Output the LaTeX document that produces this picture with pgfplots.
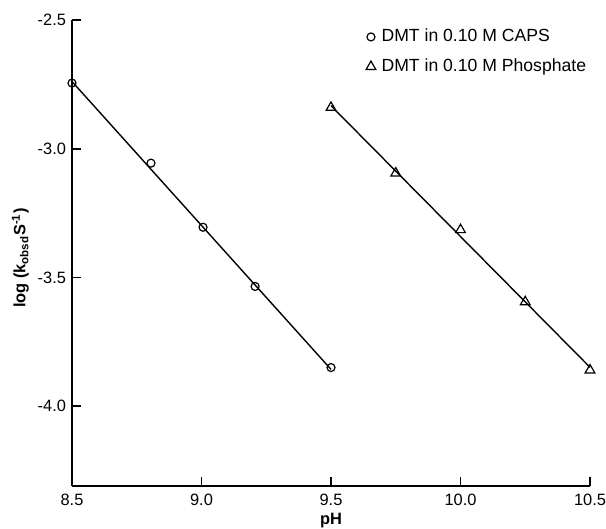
\documentclass[border=0pt]{standalone}
\usepackage{pgfplots}
\pgfplotsset{compat=1.18}
\usepackage{fontspec}
\setmainfont{Liberation Sans}
\begin{document}
\begin{tikzpicture}
\useasboundingbox (-36pt,-21.5pt) rectangle (267pt,243pt);
\begin{axis}[
  at={(0,0)}, anchor=south west,
  scale only axis, width=259pt, height=233pt,
  xmin=8.5, xmax=10.5, ymin=-4.31, ymax=-2.5,
  axis lines=left, axis line style={-, line width=0.9pt},
  tick align=inside, major tick length=4.5pt,
  tick style={line width=0.8pt, black},
  xtick={8.5,9.0,9.5,10.0,10.5},
  ytick={-2.5,-3.0,-3.5,-4.0},
  /pgf/number format/assume math mode=true,
  /pgf/number format/fixed, /pgf/number format/fixed zerofill, /pgf/number format/precision=1,
  ticklabel style={font=\fontsize{8.2}{10}\selectfont},
  yticklabel style={xshift=0.5pt},
  xticklabel style={yshift=-0.5pt},
  xlabel={\textbf{pH}}, ylabel={\textbf{log (k\textsubscript{obsd}S\textsuperscript{-1})}},
  label style={font=\fontsize{8.2}{10}\selectfont},
  xlabel style={yshift=3pt},
  ylabel style={at={(ticklabel cs:0.489)}, yshift=-2.5pt},
  legend style={draw=none, fill=none, at={(0.567,0.99)}, anchor=north west,
    font=\fontsize{8.8}{10}\selectfont, row sep=3pt, inner sep=0pt},
  legend cell align=left,
  legend image code/.code={\draw[#1] plot coordinates {(0.12cm,0cm)}; \path (0.23cm,0cm);},
  clip=false,
]
\addplot[black, only marks, mark=o, mark size=2pt, mark options={line width=0.6pt}] coordinates {
 (8.5,-2.745) (8.805,-3.056) (9.006,-3.305) (9.207,-3.535) (9.5,-3.85)};
\addlegendentry{DMT in 0.10 M CAPS}
\addplot[black, only marks, mark=triangle, mark size=2.8pt, mark options={line width=0.6pt}] coordinates {
 (9.5,-2.84) (9.75,-3.095) (10.0,-3.315) (10.25,-3.595) (10.5,-3.86)};
\addlegendentry{DMT in 0.10 M Phosphate}
\addplot[black, line width=0.7pt, no marks, forget plot] coordinates {(8.5,-2.739) (9.5,-3.857)};
\addplot[black, line width=0.7pt, no marks, forget plot] coordinates {(9.5,-2.833) (10.5,-3.849)};
\end{axis}
\end{tikzpicture}
\end{document}
